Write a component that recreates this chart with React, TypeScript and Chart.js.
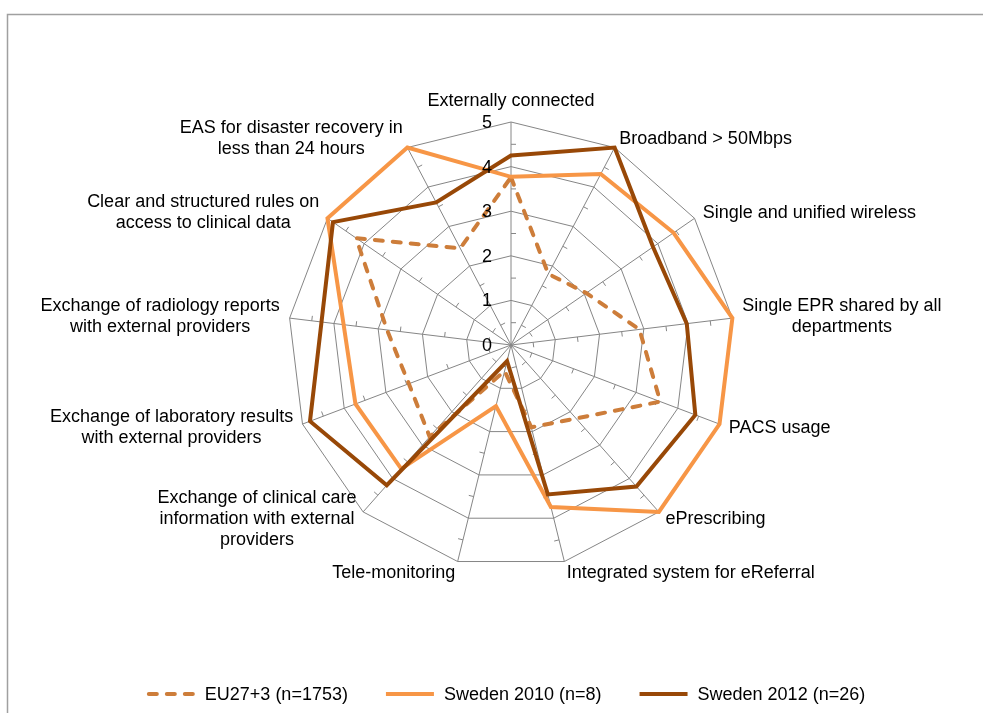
import React, { useEffect, useRef } from "react";
import { Chart, registerables } from "chart.js";

Chart.register(...registerables);

// ---- data ----
const categories: string[][] = [
  ["Externally connected"],
  ["Broadband > 50Mbps"],
  ["Single and unified wireless"],
  ["Single EPR shared by all", "departments"],
  ["PACS usage"],
  ["ePrescribing"],
  ["Integrated system for eReferral"],
  ["Tele-monitoring"],
  ["Exchange of clinical care", "information with external", "providers"],
  ["Exchange of laboratory results", "with external providers"],
  ["Exchange of radiology reports", "with external providers"],
  ["Clear and structured rules on", "access to clinical data"],
  ["EAS for disaster recovery in", "less than 24 hours"],
];

const euValues = [3.76, 1.8, 2.05, 2.9, 3.58, 2.2, 1.9, 0.6, 2.75, 2.45, 2.8, 4.22, 2.45];
const sweden2010Values = [3.77, 4.33, 4.43, 5.0, 5.0, 5.0, 3.74, 1.41, 3.71, 3.73, 3.78, 5.0, 5.0];
const sweden2012Values = [4.25, 5.0, 3.87, 3.97, 4.42, 4.24, 3.45, 0.37, 4.2, 4.82, 4.28, 4.85, 3.61];

const seriesNames = ["EU27+3 (n=1753)", "Sweden 2010 (n=8)", "Sweden 2012 (n=26)"];
const tickValues = [0, 1, 2, 3, 4, 5];

// ---- styles ----
const FONT = '18px "Liberation Sans", Arial, sans-serif';
const TEXT_COLOR = "#000000";
const GRID_COLOR = "#868686";
const COLOR_EU = "#CD7D3A";
const COLOR_2010 = "#F79646";
const COLOR_2012 = "#984807";

const framePlugin = {
  id: "frame",
  beforeDraw(chart: any) {
    const { ctx, width, height } = chart;
    ctx.save();
    ctx.fillStyle = "#ffffff";
    ctx.fillRect(0, 0, width, height);
    ctx.strokeStyle = "#a0a0a0";
    ctx.lineWidth = 1.5;
    ctx.beginPath();
    ctx.moveTo(7.5, height);
    ctx.lineTo(7.5, 14.5);
    ctx.lineTo(width, 14.5);
    ctx.stroke();
    ctx.restore();
  },
};

const spokeMarksPlugin = {
  id: "spokeMarks",
  beforeDatasetsDraw(chart: any) {
    const scale = chart.scales.r;
    const ctx = chart.ctx;
    ctx.save();
    ctx.strokeStyle = GRID_COLOR;
    ctx.lineWidth = 1;
    const n = chart.data.labels.length;
    for (let i = 0; i < n; i++) {
      const a = scale.getIndexAngle(i) - Math.PI / 2;
      const px = -Math.sin(a);
      const py = Math.cos(a);
      for (let k = 0; k < tickValues.length - 1; k++) {
        const v = (tickValues[k] + tickValues[k + 1]) / 2;
        const p = scale.getPointPositionForValue(i, v);
        ctx.beginPath();
        ctx.moveTo(p.x, p.y);
        ctx.lineTo(p.x + px * 5, p.y + py * 5);
        ctx.stroke();
      }
    }
    ctx.restore();
  },
};

const tickLabelPlugin = {
  id: "tickLabels",
  afterDatasetsDraw(chart: any) {
    const scale = chart.scales.r;
    const ctx = chart.ctx;
    ctx.save();
    ctx.font = FONT;
    ctx.fillStyle = TEXT_COLOR;
    ctx.textAlign = "right";
    ctx.textBaseline = "middle";
    tickValues.forEach((v) => {
      const p = scale.getPointPositionForValue(0, v);
      ctx.fillText(String(v), p.x - 19, p.y + 1);
    });
    ctx.restore();
  },
};

const pointLabelPlugin = {
  id: "customPointLabels",
  afterDatasetsDraw(chart: any) {
    const scale = chart.scales.r;
    const ctx = chart.ctx;
    const LH = 21;
    ctx.save();
    ctx.font = FONT;
    ctx.fillStyle = TEXT_COLOR;
    ctx.textAlign = "center";
    ctx.textBaseline = "middle";
    const labels: string[][] = chart.data.labels;
    labels.forEach((lines, i) => {
      const ang = scale.getIndexAngle(i);
      const s = Math.sin(ang);
      const c = Math.cos(ang);
      const p = scale.getPointPosition(i, scale.drawingArea + 10);
      const widths = lines.map((l) => ctx.measureText(l).width);
      const boxW = Math.max(...widths);
      const boxH = lines.length * LH;
      let left: number;
      let top: number;
      if (Math.abs(s) < 0.05) {
        left = p.x - boxW / 2;
        top = c > 0 ? p.y - boxH : p.y;
      } else {
        left = s > 0 ? p.x : p.x - boxW;
        top = p.y - boxH / 2 + (c < -0.9 ? 2 : 0);
      }
      lines.forEach((line, k) => {
        ctx.fillText(line, left + boxW / 2, top + LH * (k + 0.5));
      });
    });
    ctx.restore();
  },
};

const legendPlugin = {
  id: "customLegend",
  afterDraw(chart: any) {
    const scale = chart.scales.r;
    const ctx = chart.ctx;
    ctx.save();
    ctx.font = FONT;
    const sample = 48;
    const gapText = 10;
    const gapItem = 38;
    const y = 694;
    const items = chart.data.datasets.map((ds: any) => ({ ds, w: ctx.measureText(ds.label).width }));
    const total =
      items.reduce((acc: number, it: any) => acc + sample + gapText + it.w, 0) + gapItem * (items.length - 1);
    let x = scale.xCenter - 5 - total / 2;
    items.forEach((it: any) => {
      const ds = it.ds;
      ctx.strokeStyle = ds.borderColor;
      ctx.lineWidth = ds.borderWidth;
      ctx.setLineDash(ds.borderDash || []);
      ctx.lineCap = ds.borderDash ? "round" : "butt";
      ctx.beginPath();
      if (ds.borderDash) {
        ctx.moveTo(x + 2, y);
        ctx.lineTo(x + sample - 2, y);
      } else {
        ctx.moveTo(x, y);
        ctx.lineTo(x + sample, y);
      }
      ctx.stroke();
      ctx.setLineDash([]);
      ctx.fillStyle = TEXT_COLOR;
      ctx.textAlign = "left";
      ctx.textBaseline = "middle";
      ctx.fillText(ds.label, x + sample + gapText, y + 1);
      x += sample + gapText + it.w + gapItem;
    });
    ctx.restore();
  },
};

export default function App() {
  const canvasRef = useRef<HTMLCanvasElement | null>(null);

  useEffect(() => {
    document.body.style.margin = "0";
    document.body.style.overflow = "hidden";
    const canvas = canvasRef.current;
    if (!canvas) return;
    const chart = new Chart(canvas, {
      type: "radar",
      data: {
        labels: categories as any,
        datasets: [
          {
            label: seriesNames[0],
            data: euValues,
            borderColor: COLOR_EU,
            backgroundColor: COLOR_EU,
            borderWidth: 4,
            borderDash: [8, 10],
            borderCapStyle: "round",
            borderJoinStyle: "miter",
            fill: false,
            order: 2,
          },
          {
            label: seriesNames[1],
            data: sweden2010Values,
            borderColor: COLOR_2010,
            backgroundColor: COLOR_2010,
            borderWidth: 4,
            borderJoinStyle: "miter",
            fill: false,
            order: 1,
          },
          {
            label: seriesNames[2],
            data: sweden2012Values,
            borderColor: COLOR_2012,
            backgroundColor: COLOR_2012,
            borderWidth: 4,
            borderJoinStyle: "miter",
            fill: false,
            order: 0,
          },
        ],
      },
      options: {
        animation: false,
        responsive: false,
        maintainAspectRatio: false,
        devicePixelRatio: 1,
        layout: { padding: { left: 288, right: 249, top: 95, bottom: 118 } },
        plugins: {
          legend: { display: false },
          tooltip: { enabled: false },
        },
        elements: {
          point: { radius: 0, hoverRadius: 0 },
          line: { tension: 0 },
        },
        scales: {
          r: {
            min: 0,
            max: 5,
            ticks: { display: false, stepSize: 1 },
            pointLabels: { display: false },
            grid: { color: GRID_COLOR, lineWidth: 1, circular: false },
            angleLines: { display: true, color: GRID_COLOR, lineWidth: 1 },
          },
        },
      },
      plugins: [framePlugin, spokeMarksPlugin, tickLabelPlugin, pointLabelPlugin, legendPlugin],
    } as any);
    return () => {
      chart.destroy();
    };
  }, []);

  return <canvas ref={canvasRef} width={983} height={713} style={{ display: "block" }} />;
}
